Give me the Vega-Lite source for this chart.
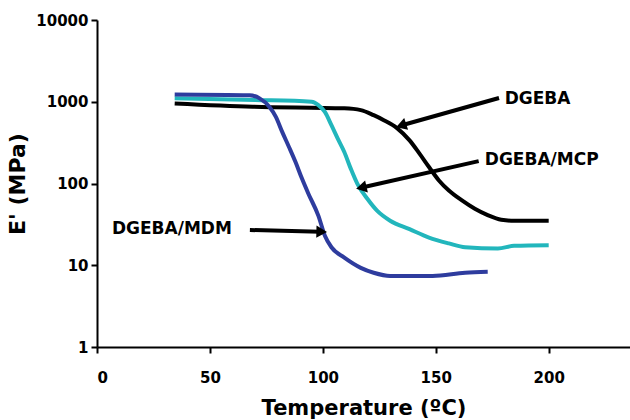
{
  "$schema": "https://vega.github.io/schema/vega-lite/v6.json",
  "width": 533,
  "height": 327,
  "autosize": {"type": "none"},
  "padding": {"left": 97, "top": 20, "right": 0, "bottom": 73},
  "background": "white",
  "config": {
    "view": {"stroke": null},
    "font": "DejaVu Sans",
    "axis": {"grid": false, "domainColor": "#000", "domainWidth": 2, "tickColor": "#000", "tickWidth": 2, "tickSize": 6,
      "labelFont": "DejaVu Sans", "labelFontWeight": "bold", "labelFontSize": 15, "labelColor": "#000",
      "titleFont": "DejaVu Sans", "titleFontWeight": "bold", "titleFontSize": 21, "titleColor": "#000"}
  },
  "datasets": {
    "curves": [
      {"T": 34.4, "E": 955, "s": "DGEBA"},
      {"T": 69, "E": 870, "s": "DGEBA"},
      {"T": 109.5, "E": 830, "s": "DGEBA"},
      {"T": 116.8, "E": 790, "s": "DGEBA"},
      {"T": 122.5, "E": 685, "s": "DGEBA"},
      {"T": 127, "E": 595, "s": "DGEBA"},
      {"T": 132.7, "E": 480, "s": "DGEBA"},
      {"T": 138.4, "E": 337, "s": "DGEBA"},
      {"T": 142.8, "E": 232, "s": "DGEBA"},
      {"T": 147, "E": 159, "s": "DGEBA"},
      {"T": 151.4, "E": 109, "s": "DGEBA"},
      {"T": 155.8, "E": 82, "s": "DGEBA"},
      {"T": 161.6, "E": 62, "s": "DGEBA"},
      {"T": 167.3, "E": 49, "s": "DGEBA"},
      {"T": 173, "E": 41, "s": "DGEBA"},
      {"T": 179, "E": 36, "s": "DGEBA"},
      {"T": 184.7, "E": 35, "s": "DGEBA"},
      {"T": 200, "E": 35, "s": "DGEBA"},
      {"T": 34.4, "E": 1100, "s": "DGEBA/MCP"},
      {"T": 70, "E": 1050, "s": "DGEBA/MCP"},
      {"T": 95, "E": 1000, "s": "DGEBA/MCP"},
      {"T": 98, "E": 910, "s": "DGEBA/MCP"},
      {"T": 100.9, "E": 750, "s": "DGEBA/MCP"},
      {"T": 103.8, "E": 517, "s": "DGEBA/MCP"},
      {"T": 106.6, "E": 354, "s": "DGEBA/MCP"},
      {"T": 109.5, "E": 243, "s": "DGEBA/MCP"},
      {"T": 112.4, "E": 151, "s": "DGEBA/MCP"},
      {"T": 115.3, "E": 99, "s": "DGEBA/MCP"},
      {"T": 119.7, "E": 65, "s": "DGEBA/MCP"},
      {"T": 124, "E": 46.5, "s": "DGEBA/MCP"},
      {"T": 129.8, "E": 35, "s": "DGEBA/MCP"},
      {"T": 138.4, "E": 27.6, "s": "DGEBA/MCP"},
      {"T": 147, "E": 21.8, "s": "DGEBA/MCP"},
      {"T": 155.8, "E": 18.5, "s": "DGEBA/MCP"},
      {"T": 163, "E": 16.6, "s": "DGEBA/MCP"},
      {"T": 177.5, "E": 16, "s": "DGEBA/MCP"},
      {"T": 184.7, "E": 17.3, "s": "DGEBA/MCP"},
      {"T": 200, "E": 17.6, "s": "DGEBA/MCP"},
      {"T": 34.4, "E": 1230, "s": "DGEBA/MDM"},
      {"T": 67.6, "E": 1200, "s": "DGEBA/MDM"},
      {"T": 72, "E": 1100, "s": "DGEBA/MDM"},
      {"T": 76.3, "E": 870, "s": "DGEBA/MDM"},
      {"T": 79.2, "E": 654, "s": "DGEBA/MDM"},
      {"T": 82, "E": 428, "s": "DGEBA/MDM"},
      {"T": 85, "E": 280, "s": "DGEBA/MDM"},
      {"T": 87.9, "E": 183, "s": "DGEBA/MDM"},
      {"T": 90.8, "E": 114, "s": "DGEBA/MDM"},
      {"T": 93.6, "E": 75, "s": "DGEBA/MDM"},
      {"T": 98, "E": 40.5, "s": "DGEBA/MDM"},
      {"T": 100.9, "E": 23, "s": "DGEBA/MDM"},
      {"T": 103.8, "E": 16.6, "s": "DGEBA/MDM"},
      {"T": 109.5, "E": 12.4, "s": "DGEBA/MDM"},
      {"T": 116.8, "E": 9.3, "s": "DGEBA/MDM"},
      {"T": 122.5, "E": 8.1, "s": "DGEBA/MDM"},
      {"T": 129.8, "E": 7.4, "s": "DGEBA/MDM"},
      {"T": 148.6, "E": 7.4, "s": "DGEBA/MDM"},
      {"T": 163, "E": 8.1, "s": "DGEBA/MDM"},
      {"T": 173, "E": 8.3, "s": "DGEBA/MDM"}
    ],
    "notes": [
      {"label": "DGEBA", "tx": 180.5, "ty": 1075, "x1": 178, "y1": 1110, "x2": 135.4, "y2": 520},
      {"label": "DGEBA/MCP", "tx": 171.7, "ty": 194, "x1": 169, "y1": 188, "x2": 117.8, "y2": 90},
      {"label": "DGEBA/MDM", "tx": 6.6, "ty": 27.7, "x1": 67.7, "y1": 27, "x2": 98.7, "y2": 25.7}
    ]
  },
  "layer": [
    {
      "data": {"name": "curves"},
      "mark": {"type": "line", "strokeWidth": 4, "interpolate": "monotone"},
      "encoding": {
        "x": {"field": "T", "type": "quantitative", "scale": {"domain": [0, 236], "nice": false},
          "axis": {"values": [0, 50, 100, 150, 200], "title": "Temperature (ºC)", "labelPadding": 17, "titlePadding": 12}},
        "y": {"field": "E", "type": "quantitative", "scale": {"type": "log", "domain": [1, 10000], "nice": false},
          "axis": {"values": [1, 10, 100, 1000, 10000], "format": "d", "title": "E' (MPa)", "titleFontSize": 22, "labelPadding": 3, "titlePadding": 6}},
        "color": {"field": "s", "type": "nominal", "legend": null,
          "scale": {"domain": ["DGEBA", "DGEBA/MCP", "DGEBA/MDM"], "range": ["#000000", "#22B6BC", "#2E3C9E"]}},
        "order": {"field": "T", "type": "quantitative"}
      }
    },
    {
      "data": {"name": "notes"},
      "mark": {"type": "rule", "strokeWidth": 4, "color": "#000"},
      "encoding": {
        "x": {"field": "x1", "type": "quantitative"},
        "y": {"field": "y1", "type": "quantitative"},
        "x2": {"field": "x2"},
        "y2": {"field": "y2"}
      }
    },
    {
      "data": {"name": "notes"},
      "transform": [{"filter": "datum.label == 'DGEBA'"}],
      "mark": {"type": "point", "shape": "triangle", "filled": true, "color": "#000", "size": 150, "angle": 251.6, "opacity": 1},
      "encoding": {"x": {"field": "x2", "type": "quantitative"}, "y": {"field": "y2", "type": "quantitative"}}
    },
    {
      "data": {"name": "notes"},
      "transform": [{"filter": "datum.label == 'DGEBA/MCP'"}],
      "mark": {"type": "point", "shape": "triangle", "filled": true, "color": "#000", "size": 150, "angle": 257, "opacity": 1},
      "encoding": {"x": {"field": "x2", "type": "quantitative"}, "y": {"field": "y2", "type": "quantitative"}}
    },
    {
      "data": {"name": "notes"},
      "transform": [{"filter": "datum.label == 'DGEBA/MDM'"}],
      "mark": {"type": "point", "shape": "triangle", "filled": true, "color": "#000", "size": 150, "angle": 91.4, "opacity": 1},
      "encoding": {"x": {"field": "x2", "type": "quantitative"}, "y": {"field": "y2", "type": "quantitative"}}
    },
    {
      "data": {"name": "notes"},
      "mark": {"type": "text", "align": "left", "baseline": "middle", "font": "DejaVu Sans", "fontWeight": "bold", "fontSize": 17, "color": "#000"},
      "encoding": {
        "x": {"field": "tx", "type": "quantitative"},
        "y": {"field": "ty", "type": "quantitative"},
        "text": {"field": "label"}
      }
    }
  ]
}
